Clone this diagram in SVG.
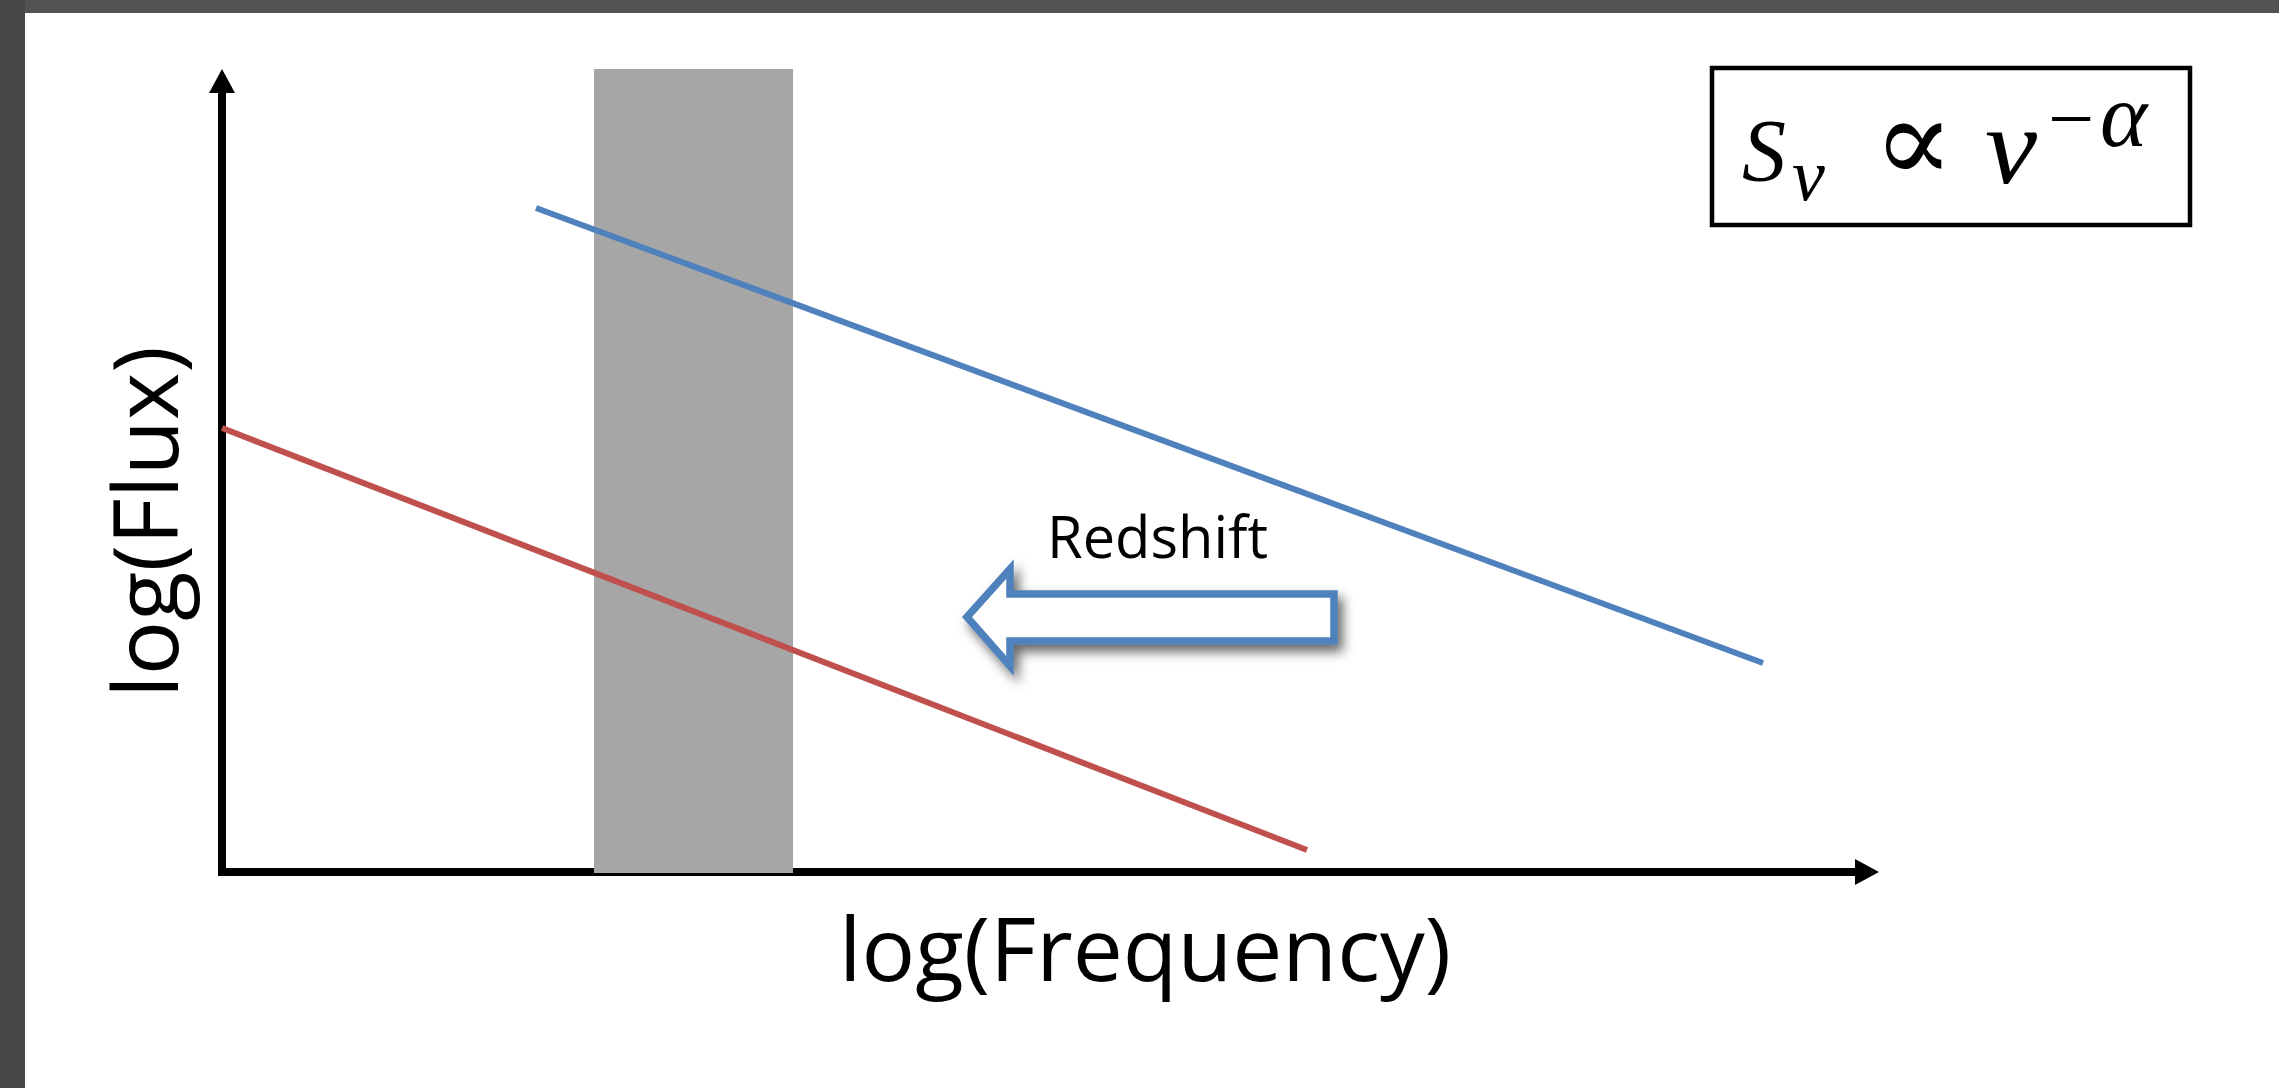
<svg xmlns="http://www.w3.org/2000/svg" width="2279" height="1088" viewBox="0 0 2279 1088">
  <defs>
    <style>
      .axis { stroke: #000; stroke-width: 8; fill: none; }
      .label { font-family: "Open Sans", "Noto Sans", sans-serif; fill: #000; }
      .math { font-family: "Liberation Serif", "DejaVu Serif", serif; font-style: italic; fill: #000; }
      .op { font-family: "DejaVu Serif", "Liberation Serif", serif; fill: #000; }
      .series { fill: none; stroke-width: 6; stroke-linecap: butt; }
    </style>
    <marker id="axis-head" markerUnits="userSpaceOnUse" markerWidth="26" markerHeight="28" viewBox="0 -14 26 28" refX="0" refY="0" orient="auto">
      <path d="M0,-13 L24,0 L0,13 Z" fill="#000"/>
    </marker>
    <filter id="soft-shadow" x="-20%" y="-40%" width="140%" height="180%">
      <feDropShadow dx="5" dy="7" stdDeviation="6" flood-color="#000" flood-opacity="0.6"/>
    </filter>
  </defs>

  <!-- page background and dark frame edges -->
  <rect x="0" y="0" width="2279" height="1088" fill="#ffffff"/>
  <rect x="0" y="0" width="2279" height="13" fill="#525252"/>
  <rect x="0" y="0" width="25" height="1088" fill="#484848"/>

  <!-- axes -->
  <g id="connectors">
    <line class="axis" x1="222" y1="876" x2="222" y2="93" marker-end="url(#axis-head)"/>
    <line class="axis" x1="218" y1="872" x2="1855" y2="872" marker-end="url(#axis-head)"/>
  </g>

  <!-- observing band -->
  <g id="band">
    <rect x="594" y="69" width="199" height="804" fill="#a6a6a6"/>
  </g>

  <!-- power-law spectra -->
  <g id="spectrum-rest">
    <line class="series" x1="536" y1="208" x2="1763" y2="663" stroke="#4f81bd"/>
  </g>
  <g id="spectrum-shifted">
    <line class="series" x1="222" y1="428" x2="1307" y2="850" stroke="#c0504d"/>
  </g>

  <!-- redshift arrow -->
  <g id="redshift">
    <polygon points="967,617 1010,569 1010,594 1334,594 1334,641 1010,641 1010,666" fill="#ffffff" stroke="#4f81bd" stroke-width="7.5" stroke-linejoin="miter" filter="url(#soft-shadow)"/>
    <text class="label" x="1047" y="558" font-size="58" textLength="221" lengthAdjust="spacingAndGlyphs">Redshift</text>
  </g>

  <!-- axis titles -->
  <g id="x-title">
    <text class="label" x="839" y="981" font-size="88" textLength="612" lengthAdjust="spacingAndGlyphs">log(Frequency)</text>
  </g>
  <g id="y-title">
    <text class="label" x="0" y="0" font-size="90" textLength="352" lengthAdjust="spacingAndGlyphs" transform="translate(178,698) rotate(-90)">log(Flux)</text>
  </g>

  <!-- spectral index relation -->
  <g id="formula">
    <rect x="1712" y="68" width="478" height="157" fill="#ffffff" stroke="#000" stroke-width="4.5"/>
    <text class="math" x="1742" y="180" font-size="88">S</text>
    <text class="math" x="1792" y="200" font-size="74">ν</text>
    <text class="op" x="1873" y="182" font-size="120">∝</text>
    <text class="math" x="1985" y="183" font-size="110" textLength="52" lengthAdjust="spacingAndGlyphs">ν</text>
    <text x="2048" y="146" fill="#000"><tspan font-family="Liberation Serif, DejaVu Serif, serif" font-size="82">−</tspan><tspan x="2100" font-family="Liberation Serif, DejaVu Serif, serif" font-style="italic" font-size="90">α</tspan></text>
  </g>
</svg>
